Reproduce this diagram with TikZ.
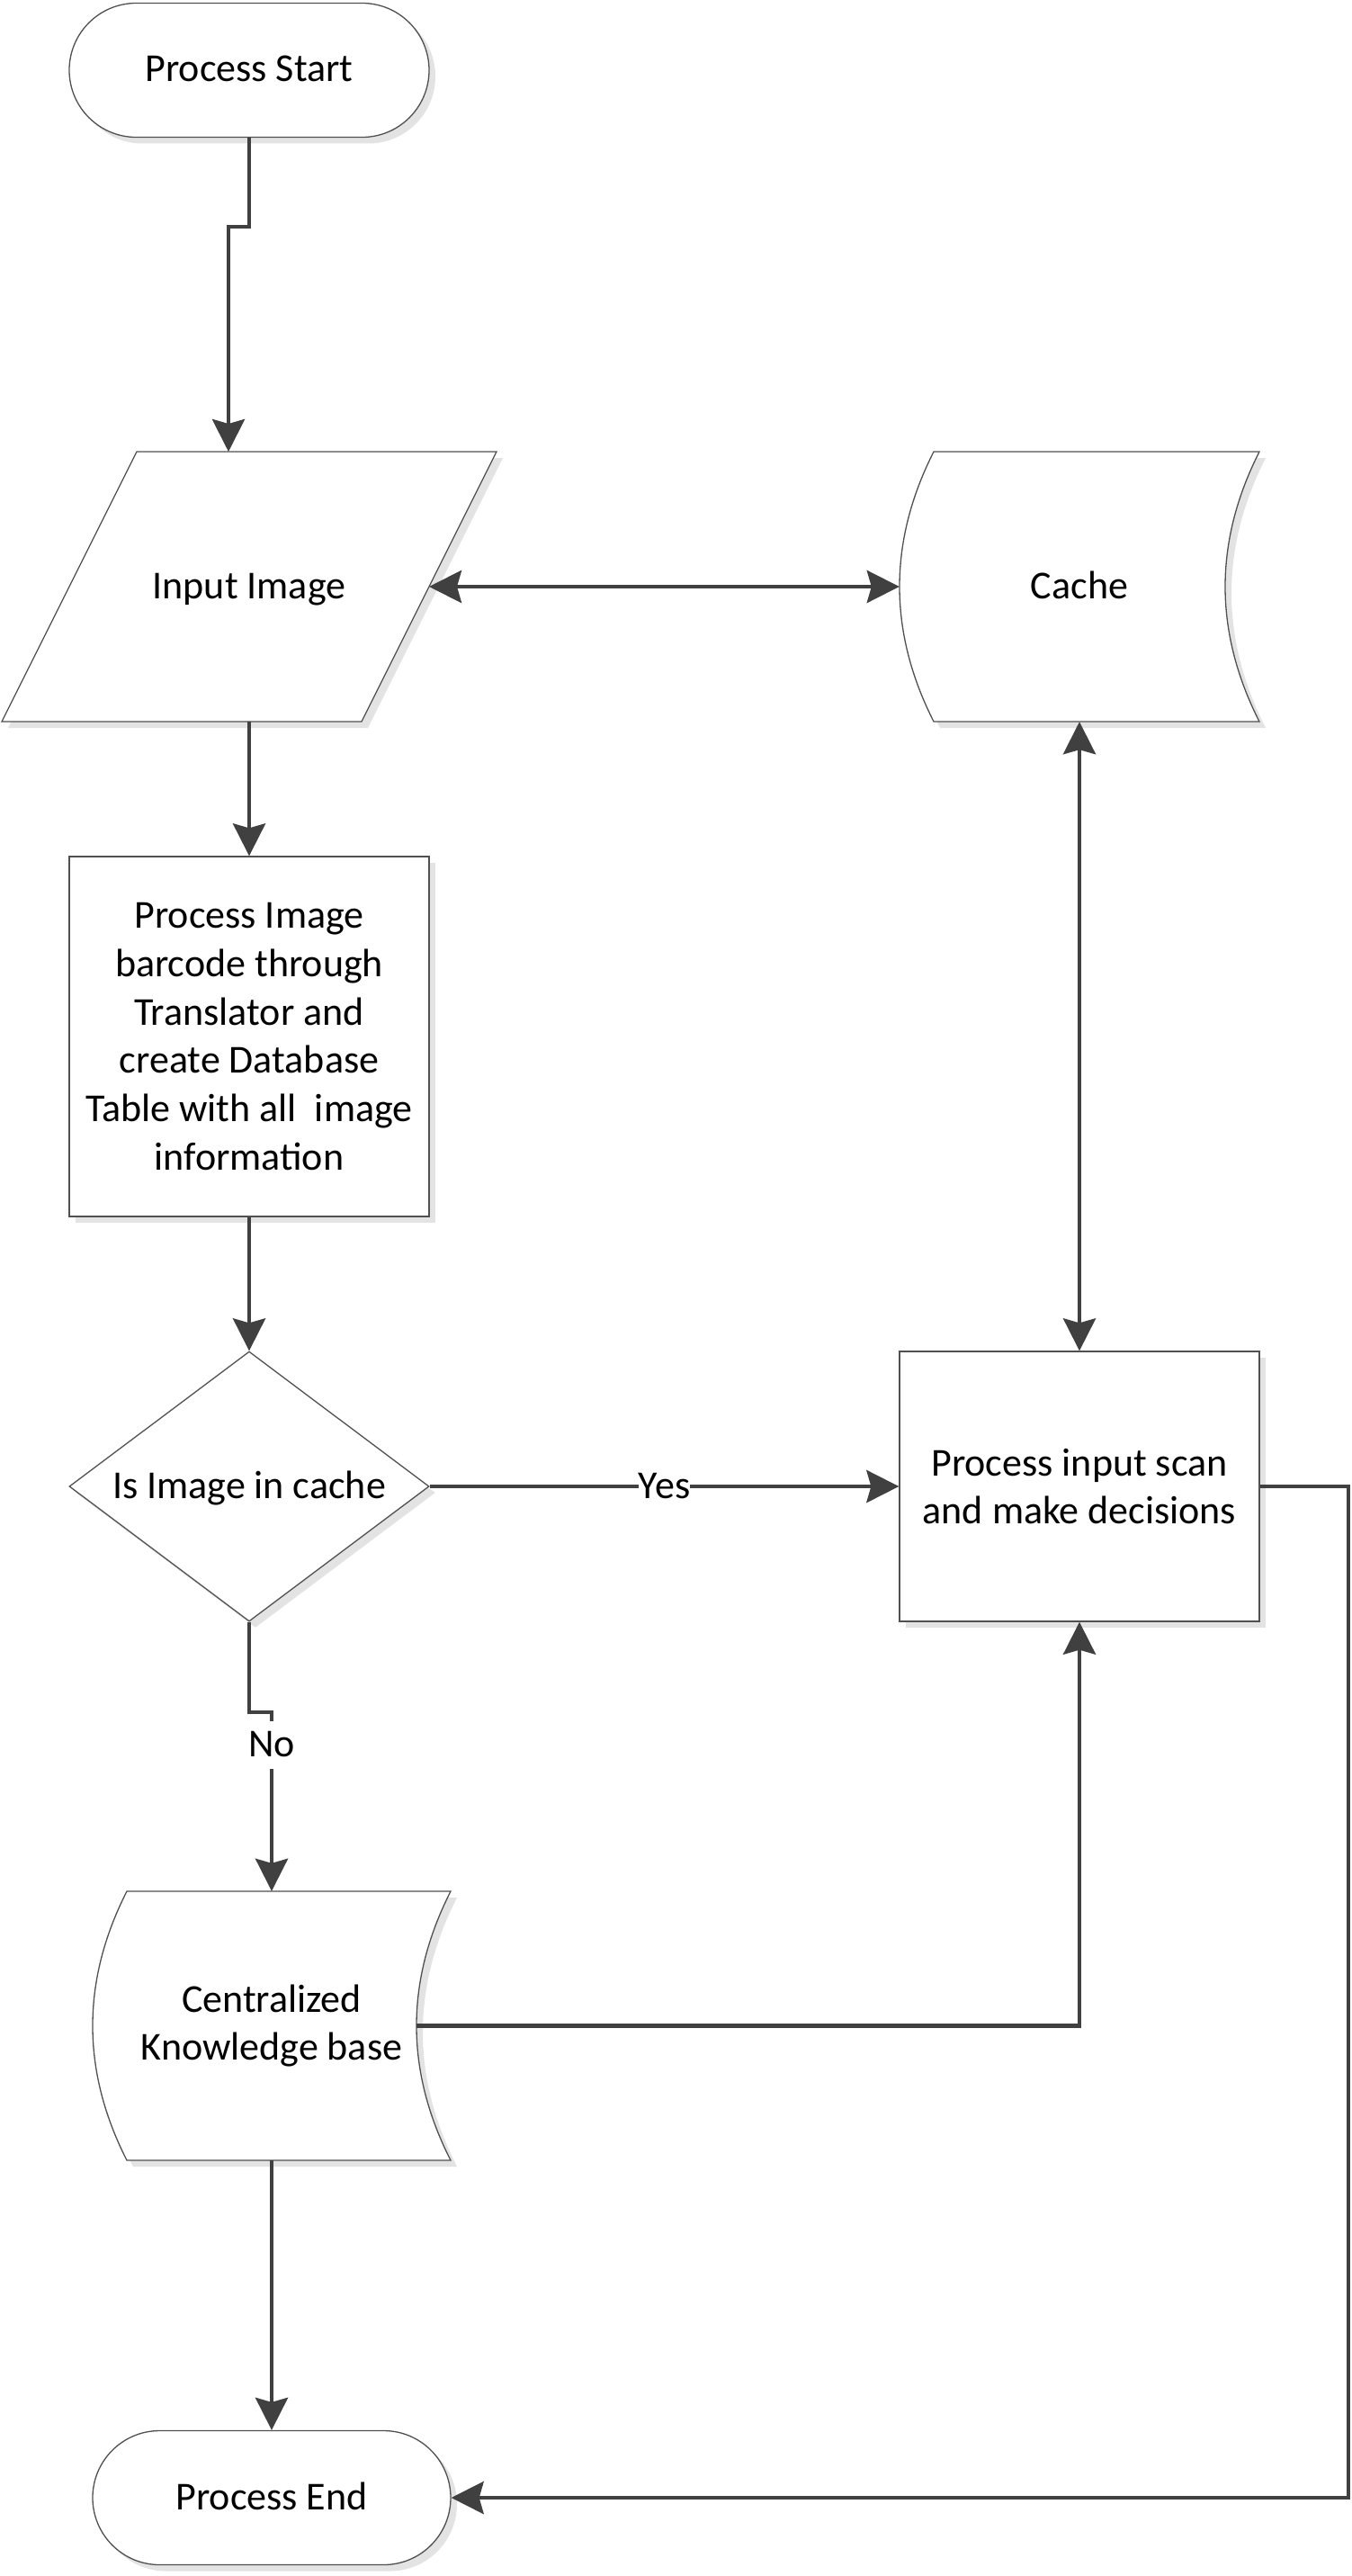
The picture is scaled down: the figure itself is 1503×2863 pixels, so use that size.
\documentclass[tikz,border=0pt]{standalone}
\usepackage{fontspec}
\setmainfont{Carlito}
\usetikzlibrary{shapes.misc,shapes.geometric,arrows.meta,shadows}
\definecolor{ln}{HTML}{404040}
\definecolor{bd}{HTML}{505050}
\definecolor{shc}{HTML}{E3E3E3}
\tikzset{
  shp/.style={draw=bd, line width=1.3pt, fill=white,
    drop shadow={shadow xshift=7pt, shadow yshift=-7pt, fill=shc, opacity=1}},
  txt/.style={font=\fontsize{44}{53.7}\selectfont, align=center, inner sep=0pt},
  one/.style={text height=35pt, text depth=9pt},
  term/.style={shp, txt, one, rounded rectangle, minimum width=400, minimum height=149},
  procbox/.style={shp, txt, rectangle, minimum width=400},
  decide/.style={shp, txt, one, diamond, aspect=1.3333, minimum width=400, minimum height=300},
  tip/.tip={Stealth[length=36pt,width=36pt,inset=5pt]},
  conn/.style={draw=ln, line width=4.5pt, -tip},
  dconn/.style={draw=ln, line width=4.5pt, tip-tip},
  lbl/.style={txt, fill=white, text height=40pt, text depth=13pt, inner xsep=0pt}
}
\begin{document}
\begin{tikzpicture}[x=1pt,y=-1pt]
\fill[white] (0,0) rectangle (1503,2863);
\useasboundingbox (0,0) rectangle (1503,2863);

% Process Start
\node[term] (start) at (277,78) {Process Start};

% Input Image (parallelogram)
\draw[shp] (152,502) -- (552,502) -- (402,802) -- (2,802) -- cycle;
\node[txt, one] (inp) at (277,652) {Input Image};
\coordinate (inpR) at (477,652);
\coordinate (inpT) at (254,502);
\coordinate (inpB) at (277,802);

% Cache (stored data)
\draw[shp] (1038,502) -- (1400,502) .. controls (1349.33,602) and (1349.33,702) .. (1400,802)
  -- (1038,802) .. controls (987.33,702) and (987.33,602) .. (1038,502) -- cycle;
\node[txt, one, minimum width=400, minimum height=300] (cache) at (1200,652) {Cache};

% Process Image box
\node[procbox, minimum height=400] (pimg) at (277,1152)
  {Process Image\\barcode through\\Translator and\\create Database\\Table with all\ \ image\\information};

% Decision
\node[decide] (dec) at (277,1652) {Is Image in cache};

% Process input scan
\node[procbox, minimum height=300] (pin) at (1200,1652) {Process input scan\\and make decisions};

% Centralized Knowledge base (stored data)
\draw[shp] (141,2102) -- (501,2102) .. controls (450.33,2201.67) and (450.33,2301.33) .. (501,2401)
  -- (141,2401) .. controls (90.33,2301.33) and (90.33,2201.67) .. (141,2102) -- cycle;
\node[txt, minimum width=398, minimum height=299] (kb) at (302,2251.5) {Centralized\\Knowledge base};
\coordinate (kbR) at (463,2251.5);

% Process End
\node[term, minimum width=398] (end) at (302,2776) {Process End};

% Connectors
\coordinate (j1) at (254,252);
\draw[conn] (start.south) |- (j1) -- (inpT);
\draw[dconn] (inpR) -- (cache.west);
\draw[conn] (inpB) -- (pimg.north);
\draw[conn] (pimg.south) -- (dec.north);
\draw[conn] (dec.east) -- (pin.west) node[lbl, pos=0.5] {Yes};
\coordinate (j2) at (302,1903);
\draw[conn] (dec.south) |- (j2) -- (kb.north) node[lbl, pos=0.183] {No};
\draw[dconn] (cache.south) -- (pin.north);
\draw[conn] (kbR) -| (pin.south);
\draw[conn] (kb.south) -- (end.north);
\coordinate (j3) at (1499,1652);
\draw[conn] (pin.east) -- (j3) |- (end.east);
\end{tikzpicture}
\end{document}
